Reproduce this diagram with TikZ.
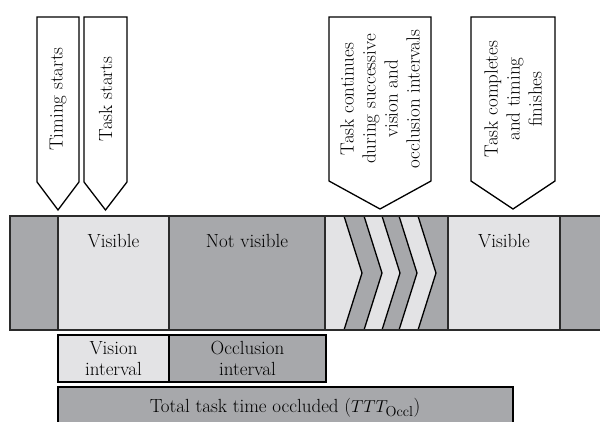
\documentclass[tikz,border=0pt]{standalone}
\usepackage{amsmath}
\usepackage{tikz}
\usetikzlibrary{positioning,calc}

\definecolor{occl}{HTML}{A7A8AB}
\definecolor{vis}{HTML}{E3E3E5}
\definecolor{edge}{HTML}{2B2B2B}

\begin{document}
\begin{tikzpicture}[x=1pt,y=-1pt,
		seg/.style={draw=edge,line width=1.7pt},
		chev/.style={draw=black,line width=1.3pt},
		flag/.style={draw=black,line width=1.3pt,fill=white,line join=miter},
		flagtext/.style={rotate=90,align=center,inner sep=0pt,font=\fontsize{19}{22}\selectfont},
		segtext/.style={anchor=base,inner sep=0pt,font=\fontsize{19}{21}\selectfont},
		ivlbox/.style={draw=black,line width=2pt,minimum height=47pt,align=center,inner sep=0pt,font=\fontsize{19}{21}\selectfont}]
				\useasboundingbox (0,0) rectangle (600,422);
				% strip of vision / occlusion phases
				\fill[occl] (10,216) rectangle (600,330);
				\fill[vis] (58,216) rectangle (169,330);
				\fill[vis] (325,216) rectangle (448,330);
				\fill[vis] (448,216) rectangle (560,330);
				\fill[occl] (344,216) -- (362,273) -- (344,330) -- (364,330) -- (382,273) -- (364,216) -- cycle;
				\fill[occl] (382,216) -- (400,273) -- (382,330) -- (399,330) -- (417,273) -- (399,216) -- cycle;
				\fill[occl] (418,216) -- (436,273) -- (418,330) -- (448,330) -- (448,216) -- cycle;
				\foreach \cx in {344,364,382,399,418}
					\draw[chev] (\cx,216) -- (\cx+18,273) -- (\cx,330);
				\draw[seg] (600,216) -- (10,216) -- (10,330) -- (600,330);
				\foreach \dx in {58,169,325,448,560}
					\draw[seg] (\dx,216) -- (\dx,330);
				\node[segtext] (vis1) at (113.5,248) {Visible};
				\node[segtext] (novis) at (247,248) {Not visible};
				\node[segtext] (vis2) at (504,248) {Visible};
				% event flags
				\draw[flag] (37,17) -- (79,17) -- (79,182) -- (58,210) -- (37,182) -- cycle;
				\draw[flag] (84,17) -- (127,17) -- (127,182) -- (105.5,210) -- (84,182) -- cycle;
				\draw[flag] (329,17) -- (431,17) -- (431,181) -- (380,209) -- (329,181) -- cycle;
				\draw[flag] (471,17) -- (555,17) -- (555,181) -- (513,209) -- (471,181) -- cycle;
				\node[flagtext] (timing) at (58,99) {Timing starts};
				\node[flagtext] (start) at (105.5,99) {Task starts};
				\node[flagtext] (cont) at (380,99) {Task continues\\during successive\\vision and\\occlusion intervals};
				\node[flagtext] (done) at (513,99) {Task completes\\and timing\\finishes};
				% intervals
				\node[ivlbox,fill=vis,minimum width=111pt] (vision) at (113.5,358.5) {Vision\\interval};
				\node[ivlbox,fill=occl,minimum width=157pt] (occlusion) at (247.5,358.5) {Occlusion\\interval};
				\fill[occl] (58,387) rectangle (513,422);
				\draw[black,line width=2pt] (58,422) -- (58,387) -- (513,387) -- (513,422);
				\node[segtext] (total) at (285,412) {Total task time occluded ($TTT_{\mathrm{Occl}}$)};
\end{tikzpicture}
\end{document}
